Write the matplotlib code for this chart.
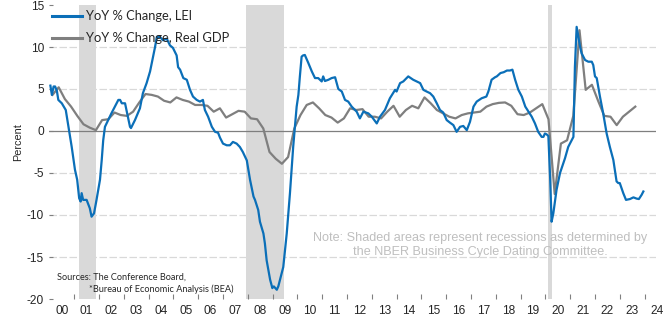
import matplotlib
matplotlib.use("Agg")
import matplotlib.pyplot as plt
from matplotlib import transforms

# ---- data ----
lei_t = [2000.04, 2000.10, 2000.17, 2000.23, 2000.30, 2000.36, 2000.50, 2000.66, 2000.79, 2000.90,
         2001.03, 2001.12, 2001.20, 2001.26, 2001.30, 2001.36, 2001.50, 2001.63, 2001.70, 2001.80,
         2001.90, 2001.97, 2002.04, 2002.11, 2002.17, 2002.24, 2002.37, 2002.50, 2002.64, 2002.78,
         2002.85, 2002.92, 2003.05, 2003.25, 2003.29, 2003.45, 2003.65, 2003.77, 2003.92, 2004.06,
         2004.18, 2004.26, 2004.33, 2004.46, 2004.58, 2004.73, 2004.86, 2004.98, 2005.13, 2005.19,
         2005.27, 2005.40, 2005.54, 2005.67, 2005.79, 2005.94, 2006.07, 2006.19, 2006.27, 2006.40,
         2006.55, 2006.68, 2006.80, 2006.88, 2007.00, 2007.15, 2007.28, 2007.40, 2007.55, 2007.68,
         2007.80, 2007.96, 2008.09, 2008.23, 2008.29, 2008.42, 2008.49, 2008.63, 2008.69, 2008.76,
         2008.90, 2008.99, 2009.05, 2009.17, 2009.23, 2009.37, 2009.43, 2009.57, 2009.70, 2009.83,
         2009.97, 2010.04, 2010.10, 2010.17, 2010.23, 2010.30, 2010.44, 2010.58, 2010.71, 2010.84,
         2010.98, 2011.04, 2011.11, 2011.25, 2011.38, 2011.52, 2011.65, 2011.79, 2011.92, 2012.05,
         2012.19, 2012.39, 2012.52, 2012.66, 2012.86, 2013.00, 2013.20, 2013.33, 2013.53, 2013.73,
         2013.94, 2014.00, 2014.14, 2014.27, 2014.47, 2014.67, 2014.81, 2014.95, 2015.08, 2015.21,
         2015.35, 2015.48, 2015.62, 2015.75, 2015.88, 2016.02, 2016.15, 2016.29, 2016.42, 2016.56,
         2016.69, 2016.83, 2016.96, 2017.10, 2017.23, 2017.43, 2017.62, 2017.70, 2017.83, 2017.97,
         2018.04, 2018.19, 2018.32, 2018.45, 2018.57, 2018.67, 2018.78, 2018.91, 2019.05, 2019.19,
         2019.32, 2019.45, 2019.58, 2019.71, 2019.85, 2019.92, 2019.98, 2020.05, 2020.12, 2020.19,
         2020.25, 2020.32, 2020.45, 2020.59, 2020.79, 2020.92, 2021.06, 2021.13, 2021.19, 2021.26,
         2021.40, 2021.46, 2021.60, 2021.73, 2021.87, 2021.93, 2022.00, 2022.07, 2022.20, 2022.33,
         2022.47, 2022.60, 2022.74, 2022.87, 2022.94, 2023.00, 2023.14, 2023.25, 2023.41, 2023.55,
         2023.68, 2023.77, 2023.88, 2023.95]
lei_v = [5.4, 4.3, 5.3, 5.3, 4.8, 3.7, 3.3, 2.5, 0.1, -1.9,
         -4.6, -5.8, -8.0, -8.4, -7.4, -8.2, -8.2, -9.2, -10.2, -9.8,
         -8.2, -7.0, -5.8, -3.45, -1.1, 0.5, 1.3, 2.1, 2.9, 3.7,
         3.7, 3.3, 3.3, 0.5, 0.35, 1.3, 2.7, 4.5, 5.7, 7.1,
         8.85, 10.0, 11.2, 11.2, 10.8, 11.0, 10.2, 9.9, 9.0, 7.6,
         7.3, 6.3, 6.1, 4.9, 4.1, 3.7, 3.5, 3.7, 2.5, 1.7,
         0.5, -0.1, -0.2, -0.8, -1.5, -1.7, -1.7, -1.3, -1.5, -1.9,
         -2.5, -3.5, -5.8, -7.8, -8.2, -9.4, -10.8, -12.2, -13.4, -15.4,
         -17.7, -18.7, -18.5, -18.9, -18.5, -16.9, -16.2, -12.2, -7.4, -1.9,
         2.9, 4.3, 6.5, 8.85, 9.0, 9.05, 8.1, 7.1, 6.3, 6.3,
         5.9, 6.5, 5.95, 6.1, 6.3, 6.4, 5.0, 4.7, 3.7, 3.5,
         2.9, 2.3, 1.5, 2.3, 2.1, 1.7, 0.9, 1.7, 2.5, 3.9,
         4.9, 4.7, 5.7, 5.9, 6.5, 6.1, 5.9, 5.7, 4.9, 4.7,
         4.5, 4.1, 3.3, 2.5, 2.2, 1.3, 1.0, 0.7, -0.1, 0.5,
         0.6, 0.1, 1.1, 2.9, 3.5, 3.9, 4.1, 4.7, 6.1, 6.4,
         6.5, 6.9, 7.0, 7.2, 7.2, 7.3, 6.1, 4.9, 4.1, 2.9,
         2.3, 1.7, 0.9, -0.1, -0.7, -0.7, -0.3, -0.4, -0.6, -5.5,
         -10.8, -9.8, -7.0, -5.0, -3.25, -1.9, -1.1, -0.7, 7.6, 12.4,
         10.0, 9.25, 8.45, 8.25, 8.25, 7.85, 6.5, 6.3, 4.1, 2.1,
         -0.3, -1.9, -3.45, -6.0, -6.2, -6.2, -7.4, -8.2, -8.1, -7.9,
         -8.05, -8.1, -7.6, -7.2]

gdp_years = list(range(2000, 2024))
gdp_v = [4.3, 5.2, 3.8, 2.9,
         1.8, 0.8, 0.4, 0.1,
         1.3, 1.4, 2.2, 1.9,
         1.8, 2.3, 3.4, 4.4,
         4.3, 4.1, 3.6, 3.4,
         4.0, 3.7, 3.5, 3.1,
         3.1, 3.0, 2.3, 2.7,
         1.6, 2.0, 2.4, 2.3,
         1.5, 1.4, 0.3, -2.5,
         -3.3, -3.9, -3.1, 0.3,
         1.9, 3.1, 3.4, 2.7,
         1.9, 1.6, 1.0, 1.5,
         2.7, 2.5, 2.6, 1.7,
         1.7, 1.5, 2.3, 3.0,
         1.7, 2.5, 3.0, 2.7,
         4.0, 3.3, 2.5, 2.1,
         1.7, 1.5, 1.9, 2.1,
         2.2, 2.3, 2.9, 3.2,
         3.35, 3.4, 3.0, 2.0,
         1.9, 2.2, 2.7, 3.2,
         1.4, -7.5, -1.5, -1.1,
         1.8, 12.0, 4.9, 5.5,
         3.6, 1.8, 1.7, 0.7,
         1.7, 2.3, 2.9]
gdp_t = [y + (q + 0.5) / 4 for y in gdp_years for q in range(4)][:len(gdp_v)]

recessions = [(2001.18, 2001.88), (2007.93, 2009.45), (2020.10, 2020.28)]
year_labels = ["%02d" % (y % 100) for y in range(2000, 2025)]
yticks = [15, 10, 5, 0, -5, -10, -15, -20]

BLUE = "#0B6FB8"
GRAY = "#7F7F7F"
TXT = "#262626"

fig = plt.figure(figsize=(6.72, 3.30), dpi=100)
ax = fig.add_axes([49.4 / 672, 1 - 299 / 330, (656 - 49.4) / 672, 294 / 330])
ax.set_xlim(2000, 2024.46)
ax.set_ylim(-20, 15)

for a, b in recessions:
    ax.axvspan(a, b, color="#D9D9D9", lw=0, zorder=0)

for y in [10, 5, -5, -10, -15]:
    ax.axhline(y, color="#D9D9D9", lw=0.9, ls=(0, (6, 2)), zorder=1)
ax.axhline(0, color="#7F7F7F", lw=0.9, zorder=1)

ax.plot(gdp_t, gdp_v, color=GRAY, lw=1.6, zorder=3)
ax.plot(lei_t, lei_v, color=BLUE, lw=1.6, zorder=4)

for s in ax.spines.values():
    s.set_visible(False)

ax.set_yticks(yticks)
ax.set_yticklabels([str(v) for v in yticks], fontfamily="Liberation Sans", fontsize=8.6, color=TXT)
ax.tick_params(axis="y", direction="in", length=3, width=0.8, color="#808080", pad=4)

ax.set_xticks(list(range(2001, 2025)))
ax.set_xticklabels([])
ax.tick_params(axis="x", direction="in", length=3.5, width=0.8, color="#808080")
trans = transforms.blended_transform_factory(ax.transData, fig.transFigure)
for i, lab in enumerate(year_labels):
    ax.text(2000 + i + 0.5, 1 - 311 / 330, lab, transform=trans, ha="center", va="center",
            fontfamily="Liberation Sans", fontsize=8.6, color=TXT, clip_on=False)

fig.text(18 / 672, 1 - 142 / 330, "Percent", rotation=90, ha="center", va="center",
         fontfamily="Liberation Sans", fontsize=7.8, color=TXT)

# legend
lx0, lx1 = 52 / 672, 82 / 672
fig.add_artist(plt.Line2D([lx0, lx1], [1 - 15.7 / 330] * 2, color=BLUE, lw=2.2))
fig.add_artist(plt.Line2D([lx0, lx1], [1 - 38.3 / 330] * 2, color=GRAY, lw=2.2))
fig.text(86 / 672, 1 - 15.7 / 330, "YoY % Change, LEI", ha="left", va="center",
         fontfamily="Lato", fontsize=9.3, color=TXT)
fig.text(86 / 672, 1 - 38.3 / 330, "YoY % Change, Real GDP", ha="left", va="center",
         fontfamily="Lato", fontsize=9.3, color=TXT)

fig.text(57 / 672, 1 - 276.7 / 330, "Sources: The Conference Board,", ha="left", va="center",
         fontfamily="Lato", fontsize=6.6, color=TXT)
fig.text(89 / 672, 1 - 289.3 / 330, "*Bureau of Economic Analysis (BEA)", ha="left", va="center",
         fontfamily="Lato", fontsize=6.6, color=TXT)

fig.text(480 / 672, 1 - 245 / 330,
         "Note: Shaded areas represent recessions as determined by\nthe NBER Business Cycle Dating Committee.",
         ha="center", va="center", multialignment="center", linespacing=1.2,
         fontfamily="Liberation Sans", fontsize=9.1, color="#BFBFBF")

fig.savefig("out.png", dpi=100)
